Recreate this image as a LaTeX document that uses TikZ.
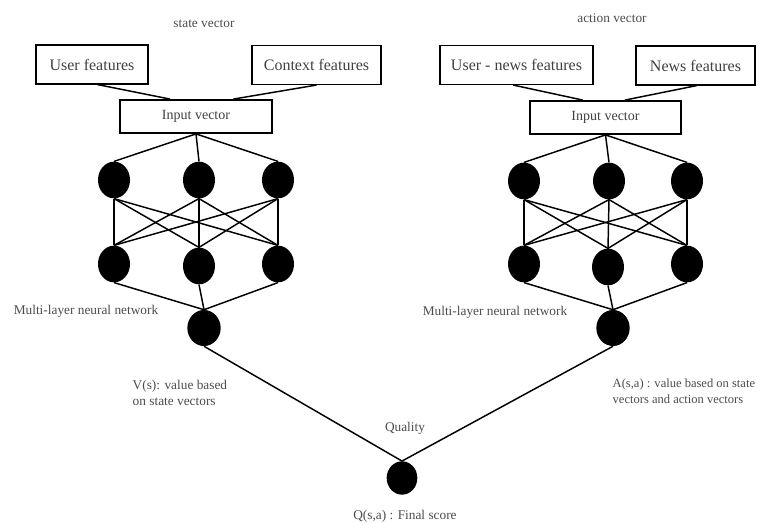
\documentclass[tikz,border=0pt]{standalone}
\usepackage{fontspec}
\setmainfont{Liberation Serif}
\usepackage{tikz}
\usetikzlibrary{shapes.geometric, calc}

\begin{document}
\begin{tikzpicture}[
  x=0.75pt, y=-0.75pt,
  box/.style={rectangle, draw, line width=1.1pt, inner sep=0pt,
              minimum height=29pt, font=\fontsize{12}{14}\selectfont, text=black!75},
  neuron/.style={ellipse, fill=black, inner sep=0pt,
                 minimum width=24pt, minimum height=27.5pt},
  link/.style={line width=1.1pt},
  lbl/.style={font=\fontsize{10}{12}\selectfont, text=black!70, align=left}
]
\useasboundingbox (0,0) rectangle (762,523);

% Feature boxes (state side)
\node[box, minimum width=84pt]  at (92,64.5)   (userf)  {User features};
\node[box, minimum width=97pt]  at (316.5,65)  (ctxf)   {Context features};
\node[box, minimum width=114pt, minimum height=25pt, font=\fontsize{10.5}{12}\selectfont]
      at (196,116.5) (inL) {Input vector};

% Feature boxes (action side)
\node[box, minimum width=115pt] at (516.5,65)  (usrnews) {User - news features};
\node[box, minimum width=89pt]  at (695.5,65.5) (newsf)  {News features};
\node[box, minimum width=113pt, minimum height=25pt, font=\fontsize{10.5}{12}\selectfont]
      at (605.5,117.5) (inR) {Input vector};

% Hidden layers
\node[neuron] at (114,180) (la1) {};
\node[neuron] at (199,180) (la2) {};
\node[neuron] at (278,180) (la3) {};
\node[neuron] at (114,264) (lb1) {};
\node[neuron] at (199,266) (lb2) {};
\node[neuron] at (278,264) (lb3) {};

\node[neuron] at (524,181) (ra1) {};
\node[neuron] at (609,181) (ra2) {};
\node[neuron] at (687,181) (ra3) {};
\node[neuron] at (524,264) (rb1) {};
\node[neuron] at (608,267) (rb2) {};
\node[neuron] at (687,264) (rb3) {};

% Outputs
\node[neuron, minimum width=25pt, minimum height=27pt] at (204,328) (vout) {};
\node[neuron, minimum width=25pt, minimum height=27pt] at (613,328) (aout) {};
\node[neuron, minimum width=23pt, minimum height=25pt] at (402,478) (qout) {};

% Box links
\draw[link] ([xshift=4pt]userf.south)      -- ([xshift=-19.5pt]inL.north);
\draw[link] (ctxf.south)                   -- ([xshift=28pt]inL.north);
\draw[link] ([xshift=-2.5pt]usrnews.south) -- ([xshift=-17pt]inR.north);
\draw[link] ([xshift=1pt]newsf.south)      -- ([xshift=14.5pt]inR.north);

% Network links
\foreach \s/\inp in {l/inL, r/inR} {
  \foreach \i in {1,2,3} {
    \draw[link] (\inp.south) -- (\s a\i.north);
    \foreach \j in {1,2,3}
      \draw[link] (\s a\i.south) -- (\s b\j.north);
  }
}
\foreach \i in {1,2,3} {
  \draw[link] (lb\i.south) -- (vout.north);
  \draw[link] (rb\i.south) -- (aout.north);
}
\draw[link] (vout.south) -- (qout.north);
\draw[link] (aout.south) -- (qout.north);

% Labels
\node[lbl] at (204,24)  (svec) {state vector};
\node[lbl] at (612,18)  (avec) {action vector};
\node[lbl] at (86,311)  (mlpL) {Multi-layer neural network};
\node[lbl] at (495,312) (mlpR) {Multi-layer neural network};
\node[lbl, anchor=west] at (128,393) (vtxt) {V(s): value based\\on state vectors};
\node[lbl, anchor=west, font=\fontsize{9.4}{12}\selectfont] at (608,391) (atxt)
      {A(s,a) : value based on state\\vectors and action vectors};
\node[lbl] at (405,428) (qual) {Quality};
\node[lbl] at (405,516) (qtxt) {Q(s,a) : Final score};
\end{tikzpicture}
\end{document}
